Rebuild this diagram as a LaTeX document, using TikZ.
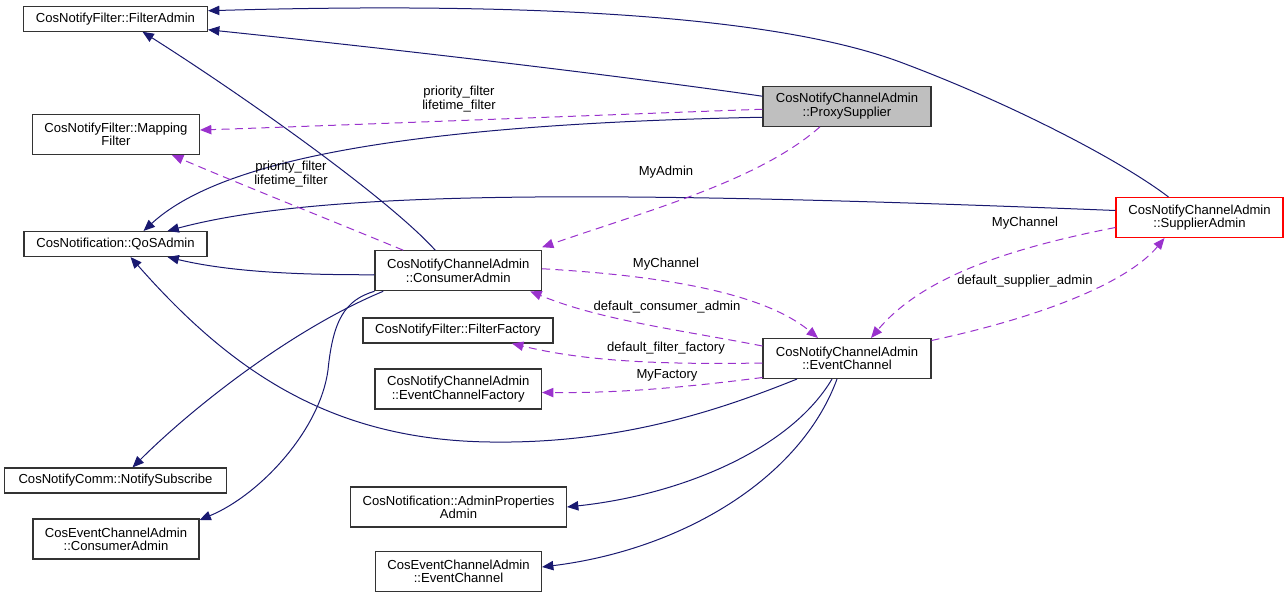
\documentclass[tikz,border=0pt]{standalone}
\usepackage{fontspec}
\setmainfont{Liberation Sans}
\usetikzlibrary{arrows.meta,calc}
\definecolor{inhcol}{HTML}{191970}
\definecolor{usecol}{HTML}{9A32CD}
\definecolor{boxline}{HTML}{333333}
\begin{document}
\begin{tikzpicture}[x=0.75pt,y=-0.75pt,
  every node/.style={font=\fontsize{9.8}{10}\selectfont},
  box/.style={draw=boxline,line width=0.8pt,fill=white,inner sep=0pt,align=center,minimum height=30pt},
  onebox/.style={box,minimum height=18.75pt},
  inh/.style={draw=inhcol,line width=0.75pt,{Triangle[length=8.5pt,width=7pt]}-},
  use/.style={draw=usecol,line width=0.75pt,dash pattern=on 6pt off 4pt,-{Triangle[length=8.5pt,width=7pt]}},
  lbl/.style={align=center,inner sep=0pt}]
\useasboundingbox (0,0) rectangle (1288,598);

\node[onebox,minimum width=138pt] (FA) at (115.5,18.75) {CosNotifyFilter::FilterAdmin};
\node[box,minimum width=125.25pt] (MF) at (116,134.5) {CosNotifyFilter::Mapping\\Filter};
\node[onebox,minimum width=137.25pt] (QoS) at (115.5,244) {CosNotification::QoSAdmin};
\node[box,minimum width=126pt,fill={rgb,255:red,191;green,191;blue,191}] (PS) at (847,106.25) {CosNotifyChannelAdmin\\::ProxySupplier};
\node[box,minimum width=125.25pt,draw=red] (SA) at (1199.5,217.5) {CosNotifyChannelAdmin\\::SupplierAdmin};
\node[box,minimum width=124.9pt] (CA) at (458.25,270.75) {CosNotifyChannelAdmin\\::ConsumerAdmin};
\node[onebox,minimum width=142.5pt] (FF) at (458,330.5) {CosNotifyFilter::FilterFactory};
\node[box,minimum width=124.9pt] (ECF) at (458.25,389) {CosNotifyChannelAdmin\\::EventChannelFactory};
\node[box,minimum width=126pt] (EC) at (847,358.5) {CosNotifyChannelAdmin\\::EventChannel};
\node[onebox,minimum width=166.5pt] (NS) at (115.5,480.5) {CosNotifyComm::NotifySubscribe};
\node[box,minimum width=124.5pt] (ECACA) at (116,539) {CosEventChannelAdmin\\::ConsumerAdmin};
\node[box,minimum width=162pt] (APA) at (458.5,507) {CosNotification::AdminProperties\\Admin};
\node[box,minimum width=124.5pt] (ECAEC) at (458.5,571.5) {CosEventChannelAdmin\\::EventChannel};

% solid (inheritance) edges, arrow at base
\draw[inh] ($(FA.east)+(0,-8)$) .. controls (480,3) and (760,10) .. (900,62) .. controls (1010,103) and (1120,160) .. ($(SA.north)+(-31,0)$);
\draw[inh] ($(FA.east)+(0,11)$) .. controls (450,55) and (650,80) .. ($(PS.west)+(0,-10)$);
\draw[inh] ($(FA.south)+(27,0)$) .. controls (250,100) and (390,200) .. ($(CA.north)+(-23,0)$);
\draw[inh] ($(QoS.north)+(28,0)$) .. controls (210,170) and (360,125) .. ($(PS.west)+(0,11)$);
\draw[inh] ($(QoS.north)+(52,0)$) .. controls (320,190) and (600,190) .. ($(SA.west)+(0,-7)$);
\draw[inh] ($(QoS.south)+(52,0)$) .. controls (230,272) and (300,275) .. ($(CA.west)+(0,4)$);
\draw[inh] ($(QoS.south)+(15,0)$) .. controls (230,370) and (330,440) .. (490,442) .. controls (620,444) and (720,410) .. ($(EC.south)+(-50,0)$);
\draw[inh] ($(NS.north)+(17,0)$) .. controls (190,410) and (290,330) .. ($(CA.south)+(-75,0)$);
\draw[inh] ($(ECACA.east)+(0,-19)$) .. controls (260,495) and (320,430) .. (328,370) .. controls (333,320) and (345,300) .. (CA.south west);
\draw[inh] (APA.east) .. controls (680,495) and (790,450) .. ($(EC.south)+(-15,0)$);
\draw[inh] ($(ECAEC.east)+(0,-4.5)$) .. controls (680,550) and (800,480) .. ($(EC.south)+(-10,0)$);

% dashed (usage) edges
\draw[use] ($(PS.west)+(0,3)$) .. controls (600,115) and (350,125) .. ($(MF.east)+(0,-4.5)$);
\node[lbl] (l1) at (459,99) {priority\_filter\\lifetime\_filter};
\draw[use] ($(CA.north)+(-55,0)$) .. controls (330,220) and (230,180) .. ($(MF.south)+(56,0)$);
\node[lbl] (l2) at (291,174) {priority\_filter\\lifetime\_filter};
\draw[use] ($(PS.south)+(-27,0)$) .. controls (760,180) and (650,210) .. ($(CA.north east)+(0,-3)$);
\node[lbl] (l3) at (666,172) {MyAdmin};
\draw[use] ($(CA.east)+(0,-2)$) .. controls (650,275) and (760,290) .. ($(EC.north)+(-29,0)$);
\node[lbl] (l4) at (666,264) {MyChannel};
\draw[use] ($(EC.west)+(0,-12.5)$) .. controls (680,330) and (600,320) .. ($(CA.south)+(72,0)$);
\node[lbl] (l5) at (667,307) {default\_consumer\_admin};
\draw[use] ($(EC.west)+(0,4.5)$) .. controls (650,365) and (580,360) .. ($(FF.south)+(54,0)$);
\node[lbl] (l6) at (666,348) {default\_filter\_factory};
\draw[use] ($(EC.west)+(0,19)$) .. controls (680,388) and (620,393) .. ($(ECF.east)+(0,3.5)$);
\node[lbl] (l7) at (667,375) {MyFactory};
\draw[use] ($(SA.west)+(0,10)$) .. controls (1000,250) and (920,280) .. ($(EC.north)+(24,0)$);
\node[lbl] (l8) at (1025,223) {MyChannel};
\draw[use] ($(EC.east)+(0,-18)$) .. controls (1050,315) and (1130,280) .. ($(SA.south)+(-35,0)$);
\node[lbl] (l9) at (1025,281) {default\_supplier\_admin};
\end{tikzpicture}
\end{document}
